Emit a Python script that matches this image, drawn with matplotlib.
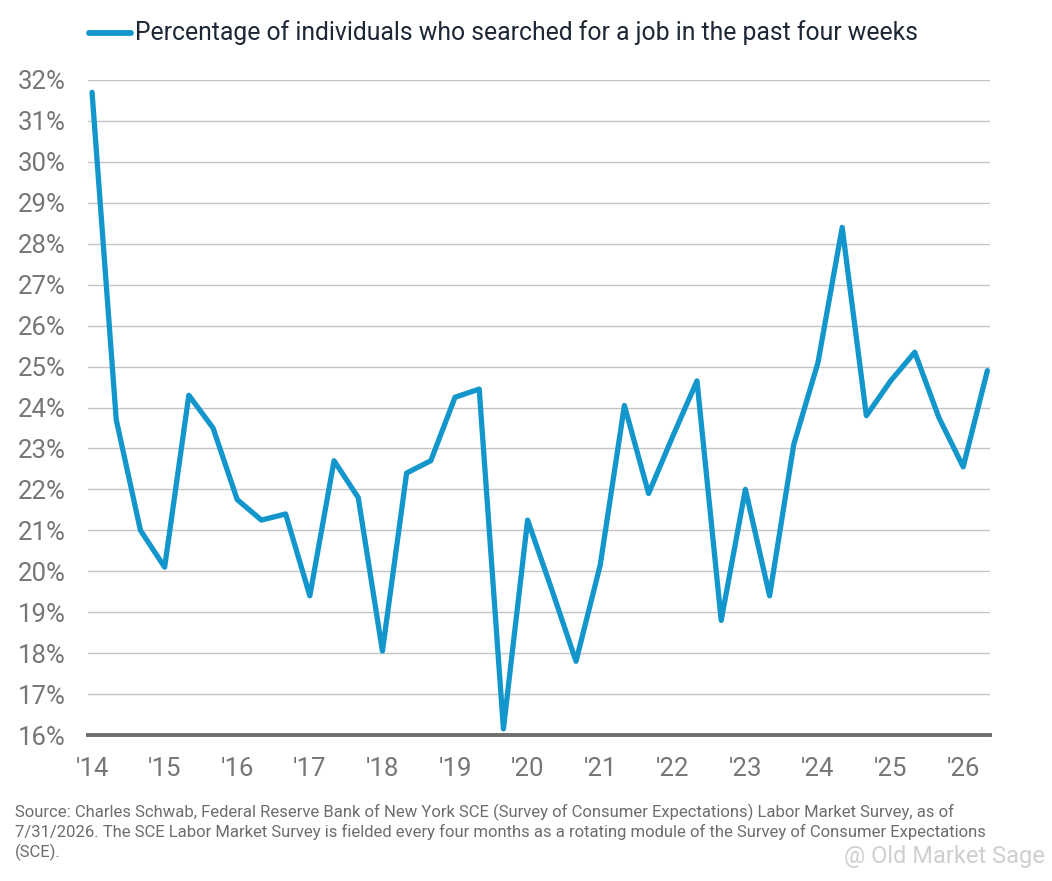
import numpy as np
import matplotlib
matplotlib.use("Agg")
import matplotlib.pyplot as plt

plt.rcParams["font.family"] = ["Roboto", "DejaVu Sans"]

# survey every four months, Jan 2014 .. May 2026
start_year = 2014
n_per_year = 3
pct = [31.7, 23.7, 21.0, 20.1, 24.3, 23.5, 21.75, 21.25, 21.4, 19.4,
       22.7, 21.8, 18.05, 22.4, 22.7, 24.25, 24.45, 16.15, 21.25, 19.55,
       17.8, 20.15, 24.05, 21.9, 23.3, 24.65, 18.8, 22.0, 19.4, 23.1,
       25.1, 28.4, 23.8, 24.65, 25.35, 23.75, 22.55, 24.9]
years = [2014 + i for i in range(13)]
year_labels = ["'14", "'15", "'16", "'17", "'18", "'19", "'20", "'21",
               "'22", "'23", "'24", "'25", "'26"]
yticks = list(range(16, 33))

legend_label = "Percentage of individuals who searched for a job in the past four weeks"
source_lines = [
    "Source: Charles Schwab, Federal Reserve Bank of New York SCE (Survey of Consumer Expectations) Labor Market Survey, as of",
    "7/31/2026. The SCE Labor Market Survey is fielded every four months as a rotating module of the Survey of Consumer Expectations",
    "(SCE).",
]

x = start_year + np.arange(len(pct)) / n_per_year

blue = "#1396cc"
grey = "#767676"

fig = plt.figure(figsize=(10.52, 8.81), dpi=100, facecolor="white")
ax = fig.add_axes([0.0837, 0.1657, 0.8574, 0.7435])

ax.plot(x, pct, color=blue, lw=3.8, solid_joinstyle="round", solid_capstyle="round",
        clip_on=False, zorder=3)

ax.set_ylim(16, 32)
ax.set_xlim(2013.945, 2026.37)
ax.set_yticks(yticks)
ax.set_yticklabels([f"{v}%" for v in yticks])
ax.set_xticks(years)
ax.set_xticklabels(year_labels)
ax.grid(axis="y", color="#c4c4c4", lw=1.0)
ax.set_axisbelow(True)
for s in ["top", "right", "left"]:
    ax.spines[s].set_visible(False)
ax.spines["bottom"].set_color("#6e6e6e")
ax.spines["bottom"].set_linewidth(2.8)
ax.tick_params(axis="y", length=0, pad=16, labelsize=18.5, labelcolor=grey)
ax.tick_params(axis="x", length=0, pad=16, labelsize=18.5, labelcolor=grey)

# legend at top
fig.lines.append(plt.Line2D([89 / 1052, 131 / 1052], [1 - 33 / 881] * 2,
                            transform=fig.transFigure, color=blue, lw=4.2,
                            solid_capstyle="round"))
fig.text(135 / 1052, 1 - 33 / 881, legend_label, fontsize=17.8, color="#1d2735",
         va="center", ha="left")

for i, line in enumerate(source_lines):
    fig.text(15 / 1052, 1 - (812 + 20 * i) / 881, line, fontsize=12.0, color="#6d6d6d",
             va="center", ha="left")

fig.text(1045 / 1052, 1 - 857 / 881, "@ Old Market Sage", fontsize=17, color="#cfcfcf",
         va="center", ha="right")

fig.savefig("out.png", dpi=100, facecolor="white")
